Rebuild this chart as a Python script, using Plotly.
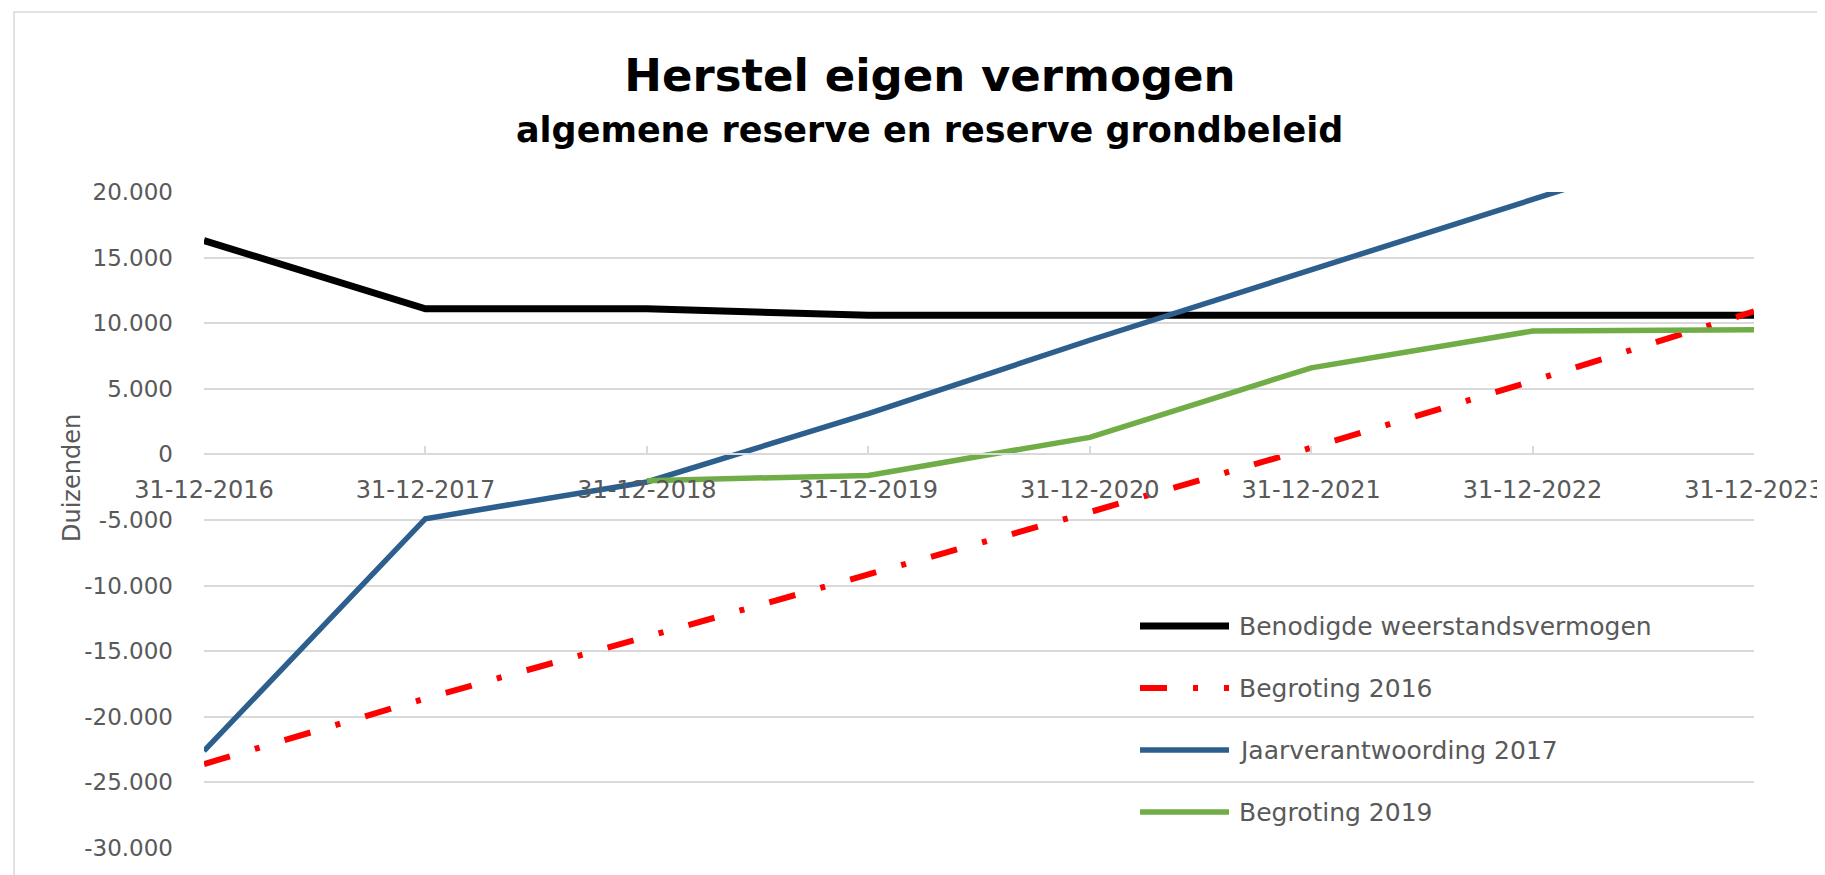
import plotly.graph_objects as go

categories = ["31-12-2016", "31-12-2017", "31-12-2018", "31-12-2019",
              "31-12-2020", "31-12-2021", "31-12-2022", "31-12-2023"]
benodigd = [16300, 11100, 11100, 10600, 10600, 10600, 10600, 10600]
begroting_2016 = [-23600, -18600, -13900, -9200, -4400, 500, 5600, 10900]
jaarverantwoording_2017 = [-22600, -4900, -2100, 3100, 8700, 14000, 19400, 24800]
begroting_2019 = [None, None, -2000, -1600, 1300, 6600, 9400, 9500]

series_names = ["Benodigde weerstandsvermogen", "Begroting 2016",
                "Jaarverantwoording 2017", "Begroting 2019"]
series_values = [benodigd, begroting_2016, jaarverantwoording_2017, begroting_2019]
series_colors = ["#000000", "#ff0000", "#2d5f8e", "#70ad47"]
series_widths = [7, 6, 5.5, 5.5]
series_dash = ["solid", "27px,26px,5px,26px", "solid", "solid"]

y_tickvals = [20000, 15000, 10000, 5000, 0, -5000, -10000, -15000, -20000, -25000, -30000]
y_ticktext = ["20.000", "15.000", "10.000", "5.000", "0", "-5.000", "-10.000",
              "-15.000", "-20.000", "-25.000", "-30.000"]

FONT = "DejaVu Sans"
GREY = "#595959"

fig = go.Figure()
for name, vals, col, w, d in zip(series_names, series_values, series_colors,
                                 series_widths, series_dash):
    fig.add_trace(go.Scatter(x=categories, y=vals, mode="lines", name=name,
                             line=dict(color=col, width=w, dash=d),
                             connectgaps=False, showlegend=False))

# page offset of the figure (browser body margin)
OFF = 8
RIGHT_MARGIN = 83
# plot area geometry in page pixels
L, R, T, B = 204, 1754, 192, 848
W, H = R - L, B - T
FW = (R - OFF) + RIGHT_MARGIN
FH = 875 - OFF

def px_x(p):
    return (p - L) / W

def px_y(p):
    return (B - p) / H

shapes = [dict(type="rect", xref="paper", yref="paper",
               x0=px_x(14), x1=px_x(1840), y0=px_y(890), y1=px_y(12),
               line=dict(color="#d9d9d9", width=1.5), fillcolor="rgba(0,0,0,0)",
               layer="below")]
annotations = []
legend_rows = [626, 688, 750, 812]
for name, col, w, d, ry in zip(series_names, series_colors, series_widths,
                               series_dash, legend_rows):
    shapes.append(dict(type="line", xref="paper", yref="paper",
                       x0=px_x(1140), x1=px_x(1229), y0=px_y(ry), y1=px_y(ry),
                       line=dict(color=col, width=w, dash=d)))
    annotations.append(dict(xref="paper", yref="paper", x=px_x(1237), y=px_y(ry),
                            text=name, showarrow=False, xanchor="left",
                            yanchor="middle",
                            font=dict(family=FONT, size=25, color=GREY)))

annotations.append(dict(xref="paper", yref="paper", x=px_x(929), y=px_y(130),
                        text="<b>algemene reserve en reserve grondbeleid</b>",
                        showarrow=False, xanchor="center", yanchor="middle",
                        font=dict(family=FONT, size=35, color="#000000")))
annotations.append(dict(xref="paper", yref="paper", x=px_x(72), y=px_y(478),
                        text="Duizenden", textangle=-90, showarrow=False,
                        xanchor="center", yanchor="middle",
                        font=dict(family=FONT, size=24, color=GREY)))

fig.update_layout(
    width=FW, height=FH,
    margin=dict(l=L - OFF, r=RIGHT_MARGIN, t=T - OFF, b=FH - (B - OFF), pad=0,
                autoexpand=False),
    paper_bgcolor="white", plot_bgcolor="white",
    title=dict(text="<b>Herstel eigen vermogen</b>", x=(930 - OFF) / FW, xref="container",
               xanchor="center", y=1 - (75 - OFF) / FH, yref="container", yanchor="middle",
               font=dict(family=FONT, size=45, color="#000000")),
    font=dict(family=FONT, color=GREY),
    shapes=shapes, annotations=annotations,
    xaxis=dict(type="category", categoryorder="array", categoryarray=categories,
               range=[0, 7], anchor="free", position=0.6, automargin=False,
               showgrid=False, showline=True, linecolor="#d9d9d9", linewidth=2,
               ticks="inside", ticklen=7, tickwidth=2, tickcolor="#d9d9d9",
               tickfont=dict(family=FONT, size=24, color=GREY),
               ticklabelstandoff=14, zeroline=False),
    yaxis=dict(range=[-30000, 20000], tickvals=y_tickvals, ticktext=y_ticktext,
               showgrid=True, gridcolor="#d9d9d9", gridwidth=1.5, automargin=False,
               zeroline=False, showline=False, ticks="",
               tickfont=dict(family=FONT, size=23, color=GREY),
               ticklabelstandoff=30),
)

fig.write_html("out.html")
